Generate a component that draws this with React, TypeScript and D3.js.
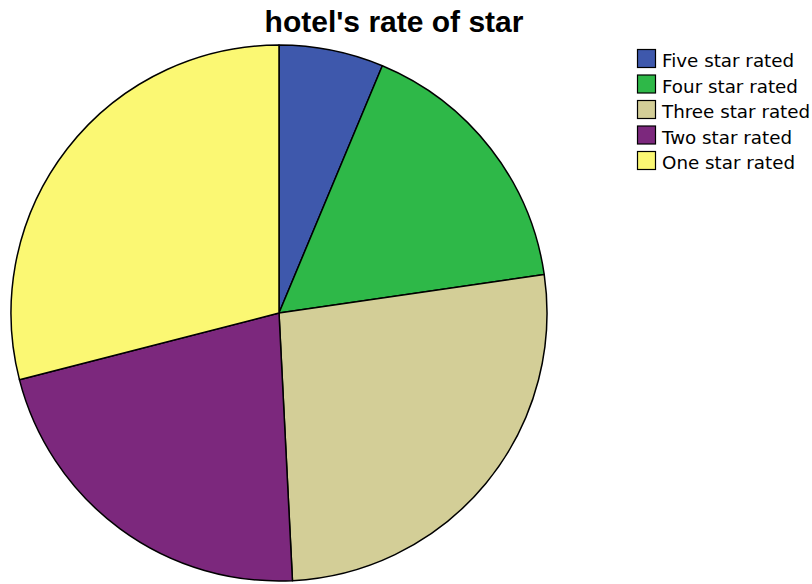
import React from "react";
import * as d3 from "d3";

const categories = ["Five star rated", "Four star rated", "Three star rated", "Two star rated", "One star rated"];
const values = [6.3, 16.4, 26.5, 21.8, 29.0];
const colors = ["#3E58AC", "#2EB848", "#D3CE97", "#7C287D", "#FBF873"];
const title = "hotel's rate of star";

export default function App() {
  const W = 812, H = 584;
  const cx = 279, cy = 313, r = 268;
  const pie = d3.pie<number>().sort(null).value((d) => d)(values);
  const arc = d3.arc<d3.PieArcDatum<number>>().innerRadius(0).outerRadius(r);
  return (
    <svg width={W} height={H} style={{ position: "absolute", left: 0, top: 0 }}>
      <rect width={W} height={H} fill="#fff" />
      <text x={394} y={32} textAnchor="middle" fontFamily="Liberation Sans, Arial, sans-serif" fontWeight="bold" fontSize={30} fill="#000">{title}</text>
      <g transform={`translate(${cx},${cy})`}>
        {pie.map((p, i) => (
          <path key={i} d={arc(p) || ""} fill={colors[i]} stroke="#000" strokeWidth={1.5} strokeLinejoin="round" />
        ))}
      </g>
      <g>
        {categories.map((c, i) => (
          <g key={c} transform={`translate(637.5,${49.5 + i * 25.5})`}>
            <rect x={0} y={0} width={18} height={18} fill={colors[i]} stroke="#000" strokeWidth={1.2} />
            <text x={24.5} y={17.5} fontFamily="DejaVu Sans, Verdana, sans-serif" fontSize={18.3} fill="#000">{c}</text>
          </g>
        ))}
      </g>
    </svg>
  );
}
